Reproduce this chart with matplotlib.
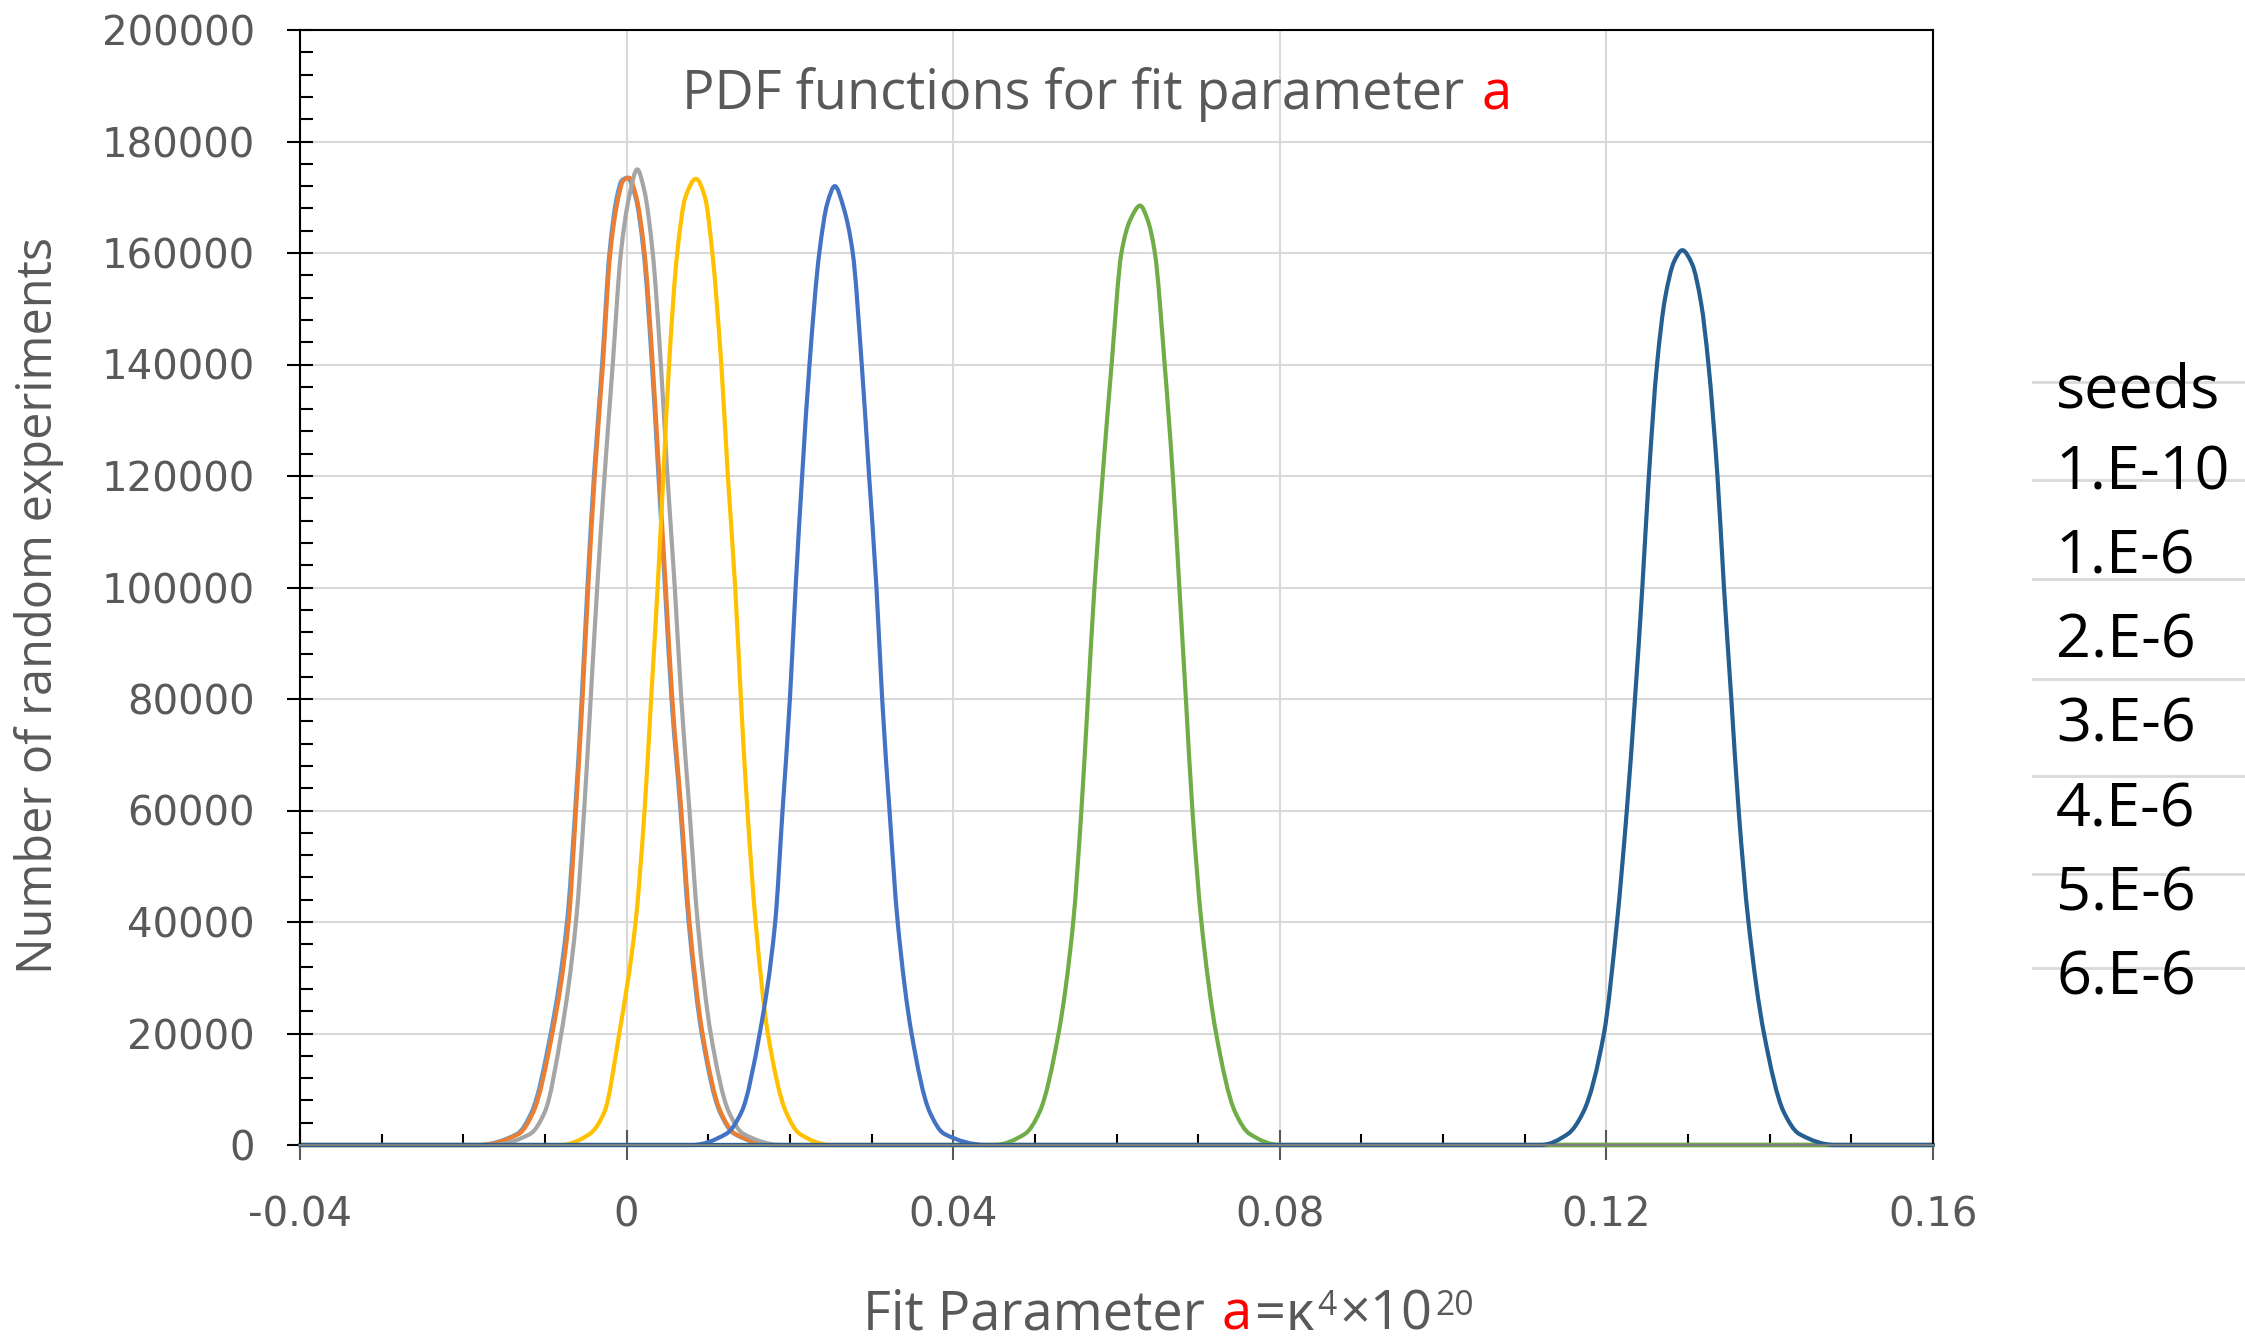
import numpy as np
import matplotlib.pyplot as plt
from matplotlib.lines import Line2D
from matplotlib.path import Path
from matplotlib.patches import PathPatch
from matplotlib.ticker import MultipleLocator, FuncFormatter

# PDF curves (x = fit parameter a, y = number of experiments)
seeds = ['1.E-10', '1.E-6', '2.E-6', '3.E-6', '4.E-6', '5.E-6', '6.E-6']
colors = ['#5B9BD5', '#ED7D31', '#A5A5A5', '#FFC000', '#4472C4', '#70AD47', '#255E91']

x_1e10 = [-0.04, -0.0182, -0.0134, -0.0116, -0.0093, -0.0073, -0.0063, -0.0055, -0.0048, -0.0040,
          -0.0030, -0.0021, -0.0012, -0.0006, 0.0001, 0.0011, 0.0021, 0.0031, 0.0039, 0.0047,
          0.0055, 0.0066, 0.0076, 0.0092, 0.0114, 0.0132, 0.0178, 0.16]
y_1e10 = [0, 0, 2000, 6000, 20000, 40000, 60000, 80000, 100000, 120000, 140000, 160000, 170000, 173000,
          173500, 170000, 160000, 140000, 120000, 100000, 80000, 60000, 40000, 20000, 6000, 2000, 0, 0]

x_1e6 = [-0.04, -0.0180, -0.0132, -0.0114, -0.0091, -0.0071, -0.0062, -0.0054, -0.0047, -0.0039,
         -0.0029, -0.0020, -0.0010, -0.0004, 0.0003, 0.0012, 0.0022, 0.0032, 0.0040, 0.0048,
         0.0056, 0.0067, 0.0077, 0.0093, 0.0115, 0.0133, 0.0180, 0.16]
y_1e6 = [0, 0, 2000, 6000, 20000, 40000, 60000, 80000, 100000, 120000, 140000, 160000, 170000, 173000,
         173500, 170000, 160000, 140000, 120000, 100000, 80000, 60000, 40000, 20000, 6000, 2000, 0, 0]

x_2e6 = [-0.04, -0.0165, -0.0118, -0.0100, -0.0080, -0.0062, -0.0052, -0.0044, -0.0036, -0.0027,
         -0.0017, -0.0007, 0.0003, 0.0013, 0.0022, 0.0032, 0.0042, 0.0050, 0.0059, 0.0067,
         0.0077, 0.0087, 0.0103, 0.0125, 0.0143, 0.0190, 0.16]
y_2e6 = [0, 0, 2000, 6000, 20000, 40000, 60000, 80000, 100000, 120000, 140000, 160000, 170000,
         175000, 171000, 160000, 140000, 120000, 100000, 80000, 60000, 40000, 20000, 6000, 2000, 0, 0]

x_3e6 = [-0.04, -0.0080, -0.0045, -0.0027, -0.0009, 0.0011, 0.0022, 0.0030, 0.0038, 0.0045,
         0.0052, 0.0062, 0.0072, 0.0085, 0.0096, 0.0105, 0.0116, 0.0124, 0.0133, 0.0140,
         0.0148, 0.0158, 0.0173, 0.0195, 0.0212, 0.0250, 0.16]
y_3e6 = [0, 0, 2000, 6000, 20000, 40000, 60000, 80000, 100000, 120000, 140000, 160000, 170000,
         173300, 170000, 160000, 140000, 120000, 100000, 80000, 60000, 40000, 20000, 6000, 2000, 0, 0]

x_4e6 = [-0.04, 0.0080, 0.0122, 0.0141, 0.0163, 0.0182, 0.0191, 0.0200, 0.0207, 0.0215,
         0.0224, 0.0236, 0.0246, 0.0255, 0.0266, 0.0277, 0.0288, 0.0297, 0.0306, 0.0313,
         0.0322, 0.0332, 0.0349, 0.0371, 0.0389, 0.0440, 0.16]
y_4e6 = [0, 0, 2000, 6000, 20000, 40000, 60000, 80000, 100000, 120000, 140000, 160000, 169000,
         172000, 168000, 160000, 140000, 120000, 100000, 80000, 60000, 40000, 20000, 6000, 2000, 0, 0]

x_5e6 = [-0.04, 0.0450, 0.0488, 0.0506, 0.0529, 0.0547, 0.0557, 0.0565, 0.0573, 0.0583,
         0.0594, 0.0606, 0.0617, 0.0629, 0.0638, 0.0647, 0.0659, 0.0669, 0.0677, 0.0685,
         0.0693, 0.0704, 0.0722, 0.0745, 0.0763, 0.0800, 0.16]
y_5e6 = [0, 0, 2000, 6000, 20000, 40000, 60000, 80000, 100000, 120000, 140000, 160000, 166000,
         168500, 166000, 160000, 140000, 120000, 100000, 80000, 60000, 40000, 20000, 6000, 2000, 0, 0]

x_6e6 = [-0.04, 0.1120, 0.1153, 0.1172, 0.1197, 0.1213, 0.1225, 0.1235, 0.1244, 0.1252,
         0.1262, 0.1272, 0.1283, 0.1293, 0.1305, 0.1316, 0.1325, 0.1336, 0.1344, 0.1353,
         0.1362, 0.1374, 0.1393, 0.1417, 0.1436, 0.1480, 0.16]
y_6e6 = [0, 0, 2000, 6000, 20000, 40000, 60000, 80000, 100000, 120000, 140000, 152000, 158500,
         160500, 158000, 151000, 140000, 120000, 100000, 80000, 60000, 40000, 20000, 6000, 2000, 0, 0]

xs = [x_1e10, x_1e6, x_2e6, x_3e6, x_4e6, x_5e6, x_6e6]
ys = [y_1e10, y_1e6, y_2e6, y_3e6, y_4e6, y_5e6, y_6e6]


def smooth_path(x, y):
    # smoothed line like Excel's: cubic segments through the points, monotone slopes
    x = np.asarray(x, float)
    y = np.asarray(y, float)
    h = np.diff(x)
    d = np.diff(y) / h
    m = np.zeros_like(y)
    for k in range(1, len(x) - 1):
        if d[k - 1] * d[k] > 0:
            w1 = 2 * h[k] + h[k - 1]
            w2 = h[k] + 2 * h[k - 1]
            m[k] = (w1 + w2) / (w1 / d[k - 1] + w2 / d[k])
    verts = [(x[0], y[0])]
    codes = [Path.MOVETO]
    for k in range(len(x) - 1):
        verts += [(x[k] + h[k] / 3, y[k] + m[k] * h[k] / 3),
                  (x[k + 1] - h[k] / 3, y[k + 1] - m[k + 1] * h[k] / 3),
                  (x[k + 1], y[k + 1])]
        codes += [Path.CURVE4] * 3
    return Path(verts, codes)


W, H = 2245, 1343
gray = '#595959'
fig = plt.figure(figsize=(W / 100, H / 100), dpi=100)
ax = fig.add_axes([300 / W, 1 - 1145 / H, (1933 - 300) / W, (1145 - 30) / H])

for x, y, c in zip(xs, ys, colors):
    ax.add_patch(PathPatch(smooth_path(x, y), fill=False, edgecolor=c, lw=3.0,
                           clip_on=False, zorder=2, joinstyle='round', capstyle='round'))

ax.set_xlim(-0.04, 0.16)
ax.set_ylim(0, 200000)
ax.xaxis.set_major_locator(MultipleLocator(0.04))
ax.xaxis.set_minor_locator(MultipleLocator(0.01))
ax.yaxis.set_major_locator(MultipleLocator(20000))
ax.yaxis.set_minor_locator(MultipleLocator(4000))
ax.xaxis.set_major_formatter(FuncFormatter(lambda v, p: '0' if abs(v) < 1e-9 else '%g' % v))
ax.yaxis.set_major_formatter(FuncFormatter(lambda v, p: '%d' % v))

ax.grid(which='major', color='#D9D9D9', lw=1.5)
ax.set_axisbelow(True)
for sp in ax.spines.values():
    sp.set_color('black')
    sp.set_linewidth(1.5)
ax.spines['bottom'].set_color('#7F7F7F')

ax.tick_params(axis='y', which='major', direction='inout', length=19, width=1.5, color='black',
               pad=23, labelsize=29, labelcolor=gray)
ax.tick_params(axis='y', which='minor', direction='in', length=9.5, width=1.5, color='black')
ax.tick_params(axis='x', which='major', direction='inout', length=21, width=1.5, color='#595959',
               pad=26, labelsize=29, labelcolor=gray)
ax.tick_params(axis='x', which='minor', direction='in', length=8, width=1.5, color='black')
for lab in ax.get_xticklabels() + ax.get_yticklabels():
    lab.set_family('DejaVu Sans')

# seeds list on the right, pasted cells with light borders
for yl in [382, 480, 579, 679, 776, 874, 968]:
    fig.add_artist(Line2D([2033 / W, 1], [1 - yl / H, 1 - yl / H], transform=fig.transFigure,
                          color='#D9D9D9', lw=2))
fig.text(2056 / W, 1 - 391 / H, 'seeds', fontsize=44, family='Open Sans', va='center', ha='left')
for i, s in enumerate(seeds):
    fig.text(2056 / W, 1 - (473 + i * 84.3) / H, s, fontsize=44, family='Open Sans',
             va='center', ha='left')

# texts made of coloured pieces
rend = fig.canvas.get_renderer()


def pieces(x0, ybase, parts, size):
    x = x0 / W
    for txt, col, scale, dy, gap in parts:
        x += gap / W
        t = fig.text(x, 1 - (ybase - dy) / H, txt, fontsize=size * scale, color=col,
                     family='Open Sans', va='baseline', ha='left')
        bb = t.get_window_extent(rend)
        x = bb.x1 / W + 3 / W


sp = 14
pieces(682, 109, [('PDF functions for fit parameter', gray, 1, 0, 0),
                  ('a', 'red', 1, 0, sp)], 39)
pieces(863, 1330, [('Fit Parameter', gray, 1, 0, 0),
                   ('a', 'red', 1, 0, sp),
                   ('=κ', gray, 1, 0, 0),
                   ('4', gray, 0.62, 15, 0),
                   ('×10', gray, 1, 0, 0),
                   ('20', gray, 0.62, 15, 0)], 39)

fig.text(39 / W, 1 - 605 / H, 'Number of random experiments', rotation=90, fontsize=35,
         family='Open Sans', color=gray, ha='center', va='center')

fig.savefig('out.png', dpi=100)
